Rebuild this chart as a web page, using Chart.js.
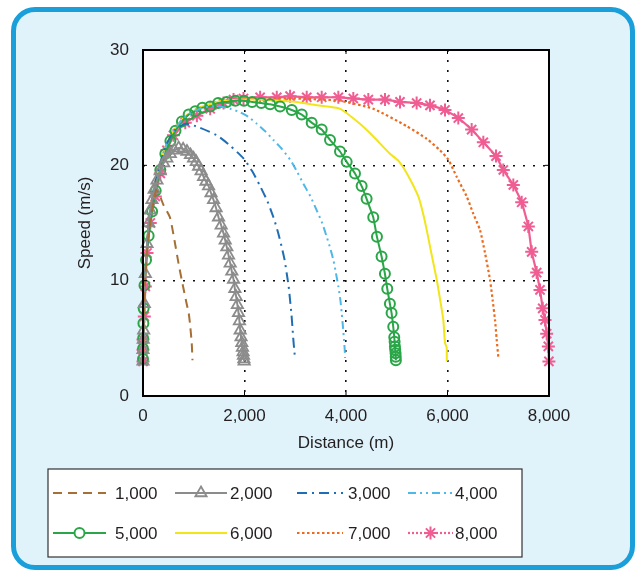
<!DOCTYPE html>
<html>
<head>
<meta charset="utf-8">
<script src="https://cdn.jsdelivr.net/npm/chart.js@4"></script>
<style>
  html, body { margin: 0; padding: 0; background: #fff; }
  #frame {
    position: absolute; left: 11px; top: 7px; width: 624px; height: 563px;
    box-sizing: border-box; border: 5px solid #1a9fdb; border-radius: 24px;
    background: #e0f2fa;
  }
  #wrap { position: absolute; left: 0; top: 0; width: 643px; height: 571px; }
</style>
</head>
<body>
<div id="frame"></div>
<div id="wrap"><canvas id="chart" width="643" height="571"></canvas></div>
<script>
// Series labels (run length in m)
const seriesLabels = ['1,000', '2,000', '3,000', '4,000', '5,000', '6,000', '7,000', '8,000'];

// Distance (m) / speed (m/s)
const dist1000 = [0, 10, 40, 90, 150, 210, 260, 310, 400, 530, 620, 700, 780, 860, 900, 925, 960, 975];
const speed1000 = [3.0, 6.5, 10.0, 13.0, 15.3, 17.0, 17.8, 17.6, 16.6, 15.5, 13.5, 11.5, 9.7, 8.0, 7.2, 6.3, 4.6, 3.1];

const dist2000 = [0, 0, 5, 13, 26, 46, 79, 111, 140, 177, 220, 275, 340, 407, 470, 538, 620, 702, 790, 866,
  935, 997, 1050, 1095, 1145, 1193, 1240, 1292, 1340, 1390, 1440, 1488, 1540, 1587, 1620, 1652, 1685, 1718, 1750, 1784,
  1810, 1836, 1860, 1882, 1900, 1915, 1932, 1947, 1960, 1972, 1980, 1988, 1993];
const speed2000 = [3.0, 4.0, 4.9, 5.7, 8.0, 10.6, 13.2, 15.0, 16.1, 17.0, 17.9, 18.7, 19.5, 20.2, 20.6, 21.0, 21.3, 21.5, 21.4, 21.2,
  20.9, 20.6, 20.3, 19.9, 19.5, 19.0, 18.6, 18.2, 17.6, 17.0, 16.3, 15.5, 14.8, 14.1, 13.5, 12.9, 12.2, 11.5, 10.8, 10.1,
  9.3, 8.6, 7.9, 7.2, 6.5, 5.7, 5.1, 4.6, 4.2, 3.8, 3.5, 3.2, 3.0];

const dist3000 = [0, 13, 46, 111, 210, 341, 472, 636, 850, 1100, 1456, 1720, 1980, 2150, 2308, 2450, 2570, 2660, 2734, 2790,
  2833, 2870, 2898, 2925, 2944, 2964, 2980, 2997];
const speed3000 = [3.0, 7.2, 10.6, 14.7, 17.9, 20.2, 21.9, 23.1, 23.6, 23.3, 22.6, 21.7, 20.6, 19.5, 18.2, 16.9, 15.5, 14.2, 12.9, 11.8,
  10.6, 9.5, 8.3, 7.1, 6.0, 4.8, 4.0, 3.2];

const dist4000 = [0, 13, 46, 111, 210, 341, 472, 636, 800, 1062, 1300, 1521, 1720, 1915, 2080, 2243, 2420, 2570, 2740, 2898,
  3030, 3160, 3300, 3423, 3530, 3620, 3690, 3751, 3800, 3849, 3890, 3915, 3940, 3960, 3975, 3982];
const speed4000 = [3.0, 7.2, 10.6, 14.7, 17.9, 20.2, 21.9, 23.2, 24.1, 24.8, 25.1, 25.1, 24.9, 24.6, 24.2, 23.6, 22.9, 22.2, 21.4, 20.5,
  19.5, 18.4, 17.3, 16.1, 15.0, 13.8, 12.8, 11.8, 10.7, 9.5, 8.3, 7.2, 6.0, 4.9, 4.0, 3.3];

const dist5000 = [0, 0, 3, 8, 13, 30, 60, 111, 180, 250, 341, 440, 540, 640, 767, 900, 1030, 1170, 1324, 1480,
  1650, 1820, 1990, 2150, 2330, 2505, 2701, 2931, 3128, 3324, 3521, 3685, 3882, 4013, 4177, 4308, 4406, 4537, 4610, 4701,
  4767, 4813, 4865, 4898, 4931, 4951, 4958, 4964, 4970, 4977, 4980, 4983];
const speed5000 = [3.2, 4.1, 5.0, 6.3, 7.6, 9.6, 11.8, 13.9, 16.0, 17.8, 19.6, 21.0, 22.1, 23.0, 23.8, 24.4, 24.7, 25.0, 25.1, 25.4,
  25.5, 25.6, 25.6, 25.5, 25.4, 25.3, 25.1, 24.8, 24.4, 23.7, 23.1, 22.2, 21.2, 20.3, 19.3, 18.2, 17.1, 15.5, 13.8, 12.1,
  10.6, 9.3, 8.0, 7.2, 6.0, 5.1, 4.7, 4.3, 4.0, 3.7, 3.4, 3.1];

const dist6000 = [0, 13, 46, 111, 210, 341, 472, 636, 800, 1062, 1456, 1980, 2300, 2700, 3029, 3423, 3882, 4276, 4538, 4867,
  5031, 5200, 5425, 5520, 5590, 5690, 5787, 5860, 5917, 5951, 5984, 5986];
const speed6000 = [3.0, 7.2, 10.6, 14.7, 17.9, 20.2, 21.9, 23.2, 24.1, 24.9, 25.5, 25.7, 25.7, 25.6, 25.5, 25.2, 24.9, 23.6, 22.5, 21.0,
  20.4, 19.3, 17.3, 15.8, 14.4, 12.2, 10.1, 8.2, 6.6, 4.6, 4.2, 3.0];

const dist7000 = [0, 13, 46, 111, 210, 341, 472, 636, 800, 1062, 1456, 1980, 2500, 3000, 3500, 3882, 4538, 5195, 5590, 5852,
  6016, 6181, 6378, 6509, 6640, 6739, 6837, 6890, 6936, 6969, 7001];
const speed7000 = [3.0, 7.2, 10.6, 14.7, 17.9, 20.2, 21.9, 23.2, 24.1, 24.9, 25.5, 25.7, 25.8, 25.8, 25.7, 25.6, 24.9, 23.4, 22.3, 21.3,
  20.5, 19.0, 17.3, 15.8, 14.4, 12.4, 10.1, 8.3, 6.6, 4.9, 3.4];

const dist8000 = [0, 0, 0, 26, 46, 79, 144, 243, 341, 472, 600, 833, 1062, 1324, 1587, 1784, 1980, 2308, 2636, 2898,
  3226, 3521, 3849, 4144, 4440, 4768, 5064, 5392, 5655, 5951, 6213, 6476, 6706, 6956, 7100, 7297, 7462, 7593, 7659, 7757,
  7823, 7876, 7921, 7954, 7987, 7998];
const speed8000 = [3.0, 4.0, 4.9, 6.9, 9.5, 12.4, 15.0, 17.3, 19.3, 21.3, 22.6, 23.7, 24.3, 24.9, 25.4, 25.7, 25.8, 25.9, 25.9, 26.0,
  25.9, 25.9, 25.9, 25.8, 25.7, 25.7, 25.5, 25.4, 25.2, 24.8, 24.1, 23.1, 22.0, 20.8, 19.6, 18.3, 16.8, 14.7, 12.5, 10.7,
  9.2, 7.6, 6.6, 5.4, 4.3, 3.0];

// Axis ticks
const xTicks = [0, 2000, 4000, 6000, 8000];
const yTicks = [0, 10, 20, 30];

function pts(xs, ys) {
  return xs.map((x, i) => ({ x: x, y: ys[i] }));
}

const FONT = '"Liberation Sans", Arial, Helvetica, sans-serif';
Chart.defaults.font.family = FONT;
Chart.defaults.font.size = 17;
Chart.defaults.color = '#231f20';

const datasets = [
  { label: seriesLabels[0], data: pts(dist1000, speed1000), borderColor: '#a66f35', borderDash: [9, 6], borderWidth: 2, pointRadius: 0, tension: 0.2 },
  { label: seriesLabels[1], data: pts(dist2000, speed2000), borderColor: '#8c8c8c', borderWidth: 2, pointStyle: 'triangle', pointRadius: 6.5,
    pointBorderWidth: 1.8, pointBorderColor: '#8c8c8c', pointBackgroundColor: 'rgba(0,0,0,0)', tension: 0.1 },
  { label: seriesLabels[2], data: pts(dist3000, speed3000), borderColor: '#1f6db5', borderDash: [10, 5, 2, 5], borderWidth: 2, pointRadius: 0, tension: 0.2 },
  { label: seriesLabels[3], data: pts(dist4000, speed4000), borderColor: '#4fb8e6', borderDash: [8, 4, 2, 4, 2, 4], borderWidth: 2, pointRadius: 0, tension: 0.2 },
  { label: seriesLabels[4], data: pts(dist5000, speed5000), borderColor: '#2aa648', borderWidth: 2, pointStyle: 'circle', pointRadius: 5,
    pointBorderWidth: 2, pointBorderColor: '#2aa648', pointBackgroundColor: 'rgba(0,0,0,0)', tension: 0.1 },
  { label: seriesLabels[5], data: pts(dist6000, speed6000), borderColor: '#f2e51a', borderWidth: 2, pointRadius: 0, tension: 0.2 },
  { label: seriesLabels[6], data: pts(dist7000, speed7000), borderColor: '#ec6a1c', borderDash: [2.5, 2.5], borderWidth: 2.2, pointRadius: 0, tension: 0.2 },
  { label: seriesLabels[7], data: pts(dist8000, speed8000), borderColor: '#ef5d93', borderWidth: 2.2, pointStyle: 'star', pointRadius: 6.5,
    pointBorderWidth: 2, pointBorderColor: '#ef5d93', pointBackgroundColor: '#ef5d93', tension: 0.1, legendDash: [2, 2] }
];
datasets.forEach(d => { d.showLine = true; d.fill = false; d.clip = 10; d.backgroundColor = d.borderColor; });

// Legend layout (box, rows, columns)
const legendBox = { left: 48, top: 469, right: 522, bottom: 557 };
const legendRows = [493, 533];
const legendLineX = [53, 175, 297, 408];
const legendLineEnd = [106, 227, 343, 453];
const legendTextX = [115, 230, 348, 455];

const framePlugin = {
  id: 'framePlugin',
  beforeDraw(chart) {
    const a = chart.chartArea, ctx = chart.ctx;
    ctx.save();
    ctx.fillStyle = '#ffffff';
    ctx.fillRect(a.left, a.top, a.right - a.left, a.bottom - a.top);
    ctx.restore();
  },
  afterDraw(chart) {
    const a = chart.chartArea, ctx = chart.ctx;
    const xs = chart.scales.x, ys = chart.scales.y;
    ctx.save();
    // plot frame
    ctx.strokeStyle = '#000';
    ctx.lineWidth = 2;
    ctx.strokeRect(a.left, a.top, a.right - a.left, a.bottom - a.top);
    // small inner tick marks
    ctx.lineWidth = 1;
    xTicks.slice(1, -1).forEach(v => {
      const p = xs.getPixelForValue(v);
      ctx.beginPath(); ctx.moveTo(p, a.bottom); ctx.lineTo(p, a.bottom - 4);
      ctx.moveTo(p, a.top); ctx.lineTo(p, a.top + 4); ctx.stroke();
    });
    yTicks.slice(1, -1).forEach(v => {
      const p = ys.getPixelForValue(v);
      ctx.beginPath(); ctx.moveTo(a.right, p); ctx.lineTo(a.right - 4, p);
      ctx.moveTo(a.left, p); ctx.lineTo(a.left + 4, p); ctx.stroke();
    });

    // legend
    ctx.fillStyle = '#ffffff';
    ctx.fillRect(legendBox.left, legendBox.top, legendBox.right - legendBox.left, legendBox.bottom - legendBox.top);
    ctx.strokeStyle = '#333';
    ctx.lineWidth = 1.2;
    ctx.strokeRect(legendBox.left, legendBox.top, legendBox.right - legendBox.left, legendBox.bottom - legendBox.top);
    chart.data.datasets.forEach((d, i) => {
      const row = Math.floor(i / 4), col = i % 4;
      const y = legendRows[row];
      const x0 = legendLineX[col], x1 = legendLineEnd[col];
      ctx.save();
      ctx.strokeStyle = d.borderColor;
      ctx.lineWidth = d.borderWidth;
      ctx.setLineDash(d.legendDash || d.borderDash || []);
      ctx.beginPath(); ctx.moveTo(x0, y); ctx.lineTo(x1, y); ctx.stroke();
      ctx.setLineDash([]);
      if (d.pointRadius > 0) {
        ctx.strokeStyle = d.pointBorderColor;
        ctx.fillStyle = d.pointStyle === 'circle' ? '#ffffff' : d.pointBackgroundColor;
        ctx.lineWidth = d.pointBorderWidth;
        Chart.helpers.drawPoint(ctx, { pointStyle: d.pointStyle, radius: d.pointRadius, borderWidth: d.pointBorderWidth, rotation: 0 },
          (x0 + x1) / 2, y);
      }
      ctx.restore();
      ctx.fillStyle = '#231f20';
      ctx.font = '17px ' + FONT;
      ctx.textBaseline = 'middle';
      ctx.textAlign = 'left';
      ctx.fillText(d.label, legendTextX[col], y + 1);
    });
    ctx.restore();
  }
};

const gridColor = ctx => (ctx.tick && (ctx.index === 0 || ctx.index === ctx.chart.scales[ctx.scale.id].ticks.length - 1)) ? 'rgba(0,0,0,0)' : '#111';

new Chart(document.getElementById('chart'), {
  type: 'scatter',
  data: { datasets: datasets },
  plugins: [framePlugin],
  options: {
    responsive: false,
    animation: false,
    devicePixelRatio: 1,
    layout: { padding: { left: 70, top: 50, right: 94, bottom: 115 } },
    plugins: { legend: { display: false }, tooltip: { enabled: false } },
    scales: {
      x: {
        type: 'linear', min: 0, max: 8000,
        afterFit: s => { s.height = 60; },
        afterBuildTicks: s => { s.ticks = xTicks.map(v => ({ value: v })); },
        ticks: { padding: 10, callback: v => v.toLocaleString('en-US'), color: '#231f20' },
        grid: { color: gridColor, lineWidth: 1.6, drawTicks: false },
        border: { display: false, dash: [2, 8] },
        title: { display: true, text: 'Distance (m)', padding: { top: 0, bottom: 2 }, color: '#231f20' }
      },
      y: {
        type: 'linear', min: 0, max: 30,
        afterFit: s => { s.width = 73; },
        afterBuildTicks: s => { s.ticks = yTicks.map(v => ({ value: v })); },
        ticks: { padding: 14, color: '#231f20' },
        grid: { color: gridColor, lineWidth: 1.6, drawTicks: false },
        border: { display: false, dash: [2, 8] },
        title: { display: true, text: 'Speed (m/s)', padding: { top: 5, bottom: 0 }, color: '#231f20' }
      }
    }
  }
});
</script>
</body>
</html>
